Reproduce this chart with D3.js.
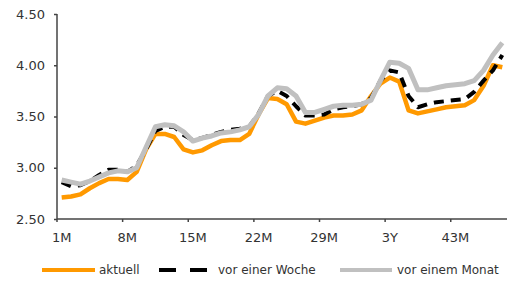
<!DOCTYPE html>
<html>
<head>
<meta charset="utf-8">
<script src="https://cdn.jsdelivr.net/npm/d3@7"></script>
<style>
  body { margin: 0; background: #fff; }
  text { font-family: "DejaVu Sans", "Liberation Sans", Arial, sans-serif; }
</style>
</head>
<body>
<script>
// Laufzeiten 1M .. 48M
const months = d3.range(1, 49);
const tickLabels = ["1M", "8M", "15M", "22M", "29M", "3Y", "43M"];
const tickMonths = [1, 8, 15, 22, 29, 36, 43];

const aktuell = [2.71, 2.72, 2.74, 2.80, 2.85, 2.89, 2.89, 2.88, 2.96, 3.18,
  3.33, 3.33, 3.30, 3.18, 3.15, 3.17, 3.22, 3.26, 3.27, 3.27,
  3.33, 3.52, 3.68, 3.67, 3.62, 3.45, 3.43, 3.46, 3.49, 3.51,
  3.51, 3.52, 3.56, 3.70, 3.82, 3.88, 3.84, 3.56, 3.53, 3.55,
  3.57, 3.59, 3.60, 3.61, 3.66, 3.80, 4.00, 3.98];

const vorWoche = [2.86, 2.82, 2.83, 2.87, 2.93, 2.98, 2.98, 2.96, 3.02, 3.18,
  3.36, 3.40, 3.40, 3.32, 3.27, 3.29, 3.32, 3.35, 3.37, 3.38,
  3.40, 3.53, 3.70, 3.75, 3.70, 3.60, 3.51, 3.51, 3.52, 3.57,
  3.59, 3.60, 3.62, 3.68, 3.85, 3.95, 3.93, 3.70, 3.59, 3.62,
  3.64, 3.65, 3.66, 3.67, 3.74, 3.85, 3.95, 4.10];

const vorMonat = [2.88, 2.86, 2.84, 2.87, 2.91, 2.95, 2.97, 2.96, 3.00, 3.20,
  3.40, 3.42, 3.41, 3.35, 3.26, 3.29, 3.31, 3.34, 3.35, 3.37,
  3.40, 3.52, 3.70, 3.78, 3.77, 3.70, 3.54, 3.54, 3.57, 3.60,
  3.61, 3.61, 3.62, 3.66, 3.85, 4.03, 4.02, 3.97, 3.76, 3.76,
  3.78, 3.80, 3.81, 3.82, 3.85, 3.95, 4.10, 4.22];

const yTicks = [2.5, 3.0, 3.5, 4.0, 4.5];

const width = 513, height = 282;
const plot = {left: 57, right: 507, top: 14, bottom: 219};

const svg = d3.select("body").append("svg")
  .attr("width", width)
  .attr("height", height);

const x = d3.scaleBand()
  .domain(months)
  .range([plot.left, plot.right]);

const y = d3.scaleLinear()
  .domain([2.5, 4.5])
  .range([plot.bottom, plot.top]);

const xc = function(m) { return x(m) + x.bandwidth() / 2; };

// Y axis
const yAxis = svg.append("g")
  .attr("transform", `translate(${plot.left},0)`)
  .call(d3.axisLeft(y).tickValues(yTicks).tickFormat(d3.format(".2f")).tickSize(3).tickPadding(9));
yAxis.select(".domain").attr("stroke", "#444").attr("stroke-width", 1.5).attr("d", `M0,${plot.top}V${plot.bottom}`);
yAxis.selectAll(".tick line").attr("stroke", "#444").attr("stroke-width", 1.5);
yAxis.selectAll(".tick text").attr("fill", "#333").style("font-size", "13px").style("font-family", null);

// X axis: ticks between categories, labels on category centre
const xAxis = svg.append("g")
  .attr("transform", `translate(0,${plot.bottom})`);
xAxis.append("path")
  .attr("d", `M${plot.left},0H${plot.right}`)
  .attr("stroke", "#444")
  .attr("stroke-width", 1.5);
xAxis.selectAll("line.tick")
  .data(tickMonths)
  .enter().append("line")
    .attr("class", "tick")
    .attr("x1", function(d) { return x(d); })
    .attr("x2", function(d) { return x(d); })
    .attr("y1", 0)
    .attr("y2", 3)
    .attr("stroke", "#444")
    .attr("stroke-width", 1.5);
xAxis.selectAll("text")
  .data(tickMonths)
  .enter().append("text")
    .attr("x", function(d) { return xc(d); })
    .attr("y", 23)
    .attr("text-anchor", "middle")
    .attr("fill", "#333")
    .style("font-size", "13px")
    .text(function(d, i) { return tickLabels[i]; });

const line = d3.line()
  .x(function(d, i) { return xc(months[i]); })
  .y(function(d) { return y(d); });

const series = [
  {name: "aktuell", values: aktuell, color: "#FF9900", width: 4.5, dash: null},
  {name: "vor einer Woche", values: vorWoche, color: "#000", width: 4, dash: "10,7"},
  {name: "vor einem Monat", values: vorMonat, color: "#C0C0C0", width: 5, dash: null}
];

svg.append("g").selectAll("path")
  .data(series)
  .enter().append("path")
    .attr("d", function(d) { return line(d.values); })
    .attr("fill", "none")
    .attr("stroke", function(d) { return d.color; })
    .attr("stroke-width", function(d) { return d.width; })
    .attr("stroke-dasharray", function(d) { return d.dash; })
    .attr("stroke-linejoin", "round");

// Legend
const legendPos = [{x1: 42, x2: 95, tx: 99}, {x1: 159, x2: 207, tx: 218}, {x1: 340, x2: 392, tx: 397}];
const legend = svg.append("g").attr("transform", "translate(0,270)");
const items = legend.selectAll("g")
  .data(series)
  .enter().append("g");
items.append("line")
  .attr("x1", function(d, i) { return legendPos[i].x1; })
  .attr("x2", function(d, i) { return legendPos[i].x2; })
  .attr("stroke", function(d) { return d.color; })
  .attr("stroke-width", 4)
  .attr("stroke-dasharray", function(d) { return d.dash ? "17,14" : null; });
items.append("text")
  .attr("x", function(d, i) { return legendPos[i].tx; })
  .attr("dy", "0.35em")
  .attr("fill", "#333")
  .style("font-size", "12px")
  .text(function(d) { return d.name; });
</script>
</body>
</html>
